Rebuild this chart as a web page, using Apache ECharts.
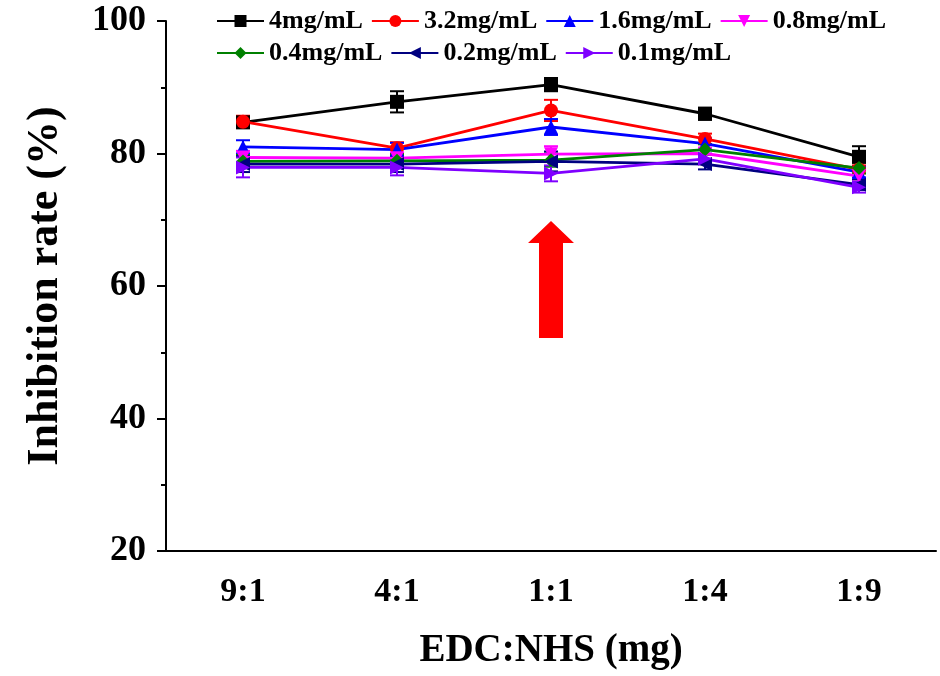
<!DOCTYPE html>
<html>
<head>
<meta charset="utf-8">
<script src="https://cdn.jsdelivr.net/npm/echarts@6/dist/echarts.min.js"></script>
<style>
  html, body { margin: 0; padding: 0; background: #fff; }
  #chart { width: 940px; height: 676px; }
</style>
</head>
<body>
<div id="chart"></div>
<script>
// 横轴类别
const ratios = ['9:1', '4:1', '1:1', '1:4', '1:9']
const yTicks = [20, 40, 60, 80, 100]

// 各浓度的抑制率 (%)
const c4 = [84.7, 87.8, 90.4, 86.0, 79.5]
const c32 = [84.8, 80.8, 86.5, 82.2, 77.6]
const c16 = [81.0, 80.6, 84.0, 81.5, 77.2]
const c08 = [79.4, 79.3, 79.9, 80.0, 76.6]
const c04 = [78.8, 78.9, 79.0, 80.6, 77.8]
const c02 = [78.4, 78.4, 78.8, 78.4, 75.3]
const c01 = [77.9, 77.9, 77.0, 79.2, 74.9]

// 误差
const e4 = [0.8, 1.6, 1.0, 0.9, 1.6]
const e32 = [0.9, 0.9, 1.6, 0.8, 0.6]
const e16 = [1.0, 1.0, 1.2, 0.8, 0.8]
const e08 = [1.0, 0.8, 1.2, 0.8, 0.8]
const e04 = [1.0, 1.0, 1.0, 0.8, 0.8]
const e02 = [1.2, 1.2, 1.5, 0.8, 0.8]
const e01 = [1.5, 1.2, 1.2, 0.8, 0.8]

const names = ['4mg/mL', '3.2mg/mL', '1.6mg/mL', '0.8mg/mL', '0.4mg/mL', '0.2mg/mL', '0.1mg/mL']

const FONT = "'Liberation Serif', 'Times New Roman', serif"

const groups = [
  { name: names[0], data: c4, err: e4, color: '#000000', symbol: 'rect' },
  { name: names[1], data: c32, err: e32, color: '#ff0000', symbol: 'circle' },
  { name: names[2], data: c16, err: e16, color: '#0000ff', symbol: 'triangle' },
  { name: names[3], data: c08, err: e08, color: '#ff00ff', symbol: 'path://M0,0 L10,0 L5,10 Z' },
  { name: names[4], data: c04, err: e04, color: '#008000', symbol: 'diamond' },
  { name: names[5], data: c02, err: e02, color: '#000080', symbol: 'path://M10,0 L10,10 L0,5 Z' },
  { name: names[6], data: c01, err: e01, color: '#7f00ff', symbol: 'path://M0,0 L10,5 L0,10 Z' }
]

const chart = echarts.init(document.getElementById('chart'))

// 误差线
const errorSeries = groups.map((g) => ({
  name: g.name + ' err',
  type: 'custom',
  z: 1,
  silent: true,
  data: g.data.map((v, i) => [i, v - g.err[i], v + g.err[i]]),
  renderItem: function (params, api) {
    const lo = api.coord([api.value(0), api.value(1)])
    const hi = api.coord([api.value(0), api.value(2)])
    const w = 7
    const style = { stroke: g.color, lineWidth: 2 }
    return {
      type: 'group',
      children: [
        { type: 'line', shape: { x1: lo[0], y1: lo[1], x2: hi[0], y2: hi[1] }, style: style },
        { type: 'line', shape: { x1: lo[0] - w, y1: lo[1], x2: lo[0] + w, y2: lo[1] }, style: style },
        { type: 'line', shape: { x1: hi[0] - w, y1: hi[1], x2: hi[0] + w, y2: hi[1] }, style: style }
      ]
    }
  }
}))

const lineSeries = groups.map((g, idx) => ({
  name: g.name,
  type: 'line',
  z: 3,
  data: g.data,
  color: g.color,
  symbol: g.symbol,
  symbolSize: 14,
  showAllSymbol: true,
  lineStyle: { width: 2.8, color: g.color },
  itemStyle: { color: g.color },
  markPoint: idx === 0 ? {
    silent: true,
    symbol: 'path://M23,0 L46,22 L35,22 L35,117 L11,117 L11,22 L0,22 Z',
    symbolSize: [46, 117],
    itemStyle: { color: '#ff0000' },
    label: { show: false },
    data: [{ coord: ['1:1', 61.0] }]
  } : undefined
}))

const legendCommon = {
  left: 216,
  padding: 0,
  itemWidth: 47,
  itemHeight: 15,
  itemGap: 8,
  textStyle: { fontFamily: FONT, fontWeight: 'bold', fontSize: 26, color: '#000' }
}

const options = {
  animation: false,
  backgroundColor: '#fff',
  grid: { left: 166, right: 4, top: 21, bottom: 125 },
  legend: [
    Object.assign({ top: 8, data: names.slice(0, 4) }, legendCommon),
    Object.assign({ top: 40, data: names.slice(4) }, legendCommon)
  ],
  xAxis: [
    {
      type: 'category',
      data: ratios,
      boundaryGap: true,
      name: 'EDC:NHS (mg)',
      nameLocation: 'middle',
      nameGap: 80,
      nameTextStyle: { fontFamily: FONT, fontWeight: 'bold', fontSize: 39, color: '#000' },
      axisLine: { lineStyle: { color: '#000', width: 2 } },
      axisTick: { alignWithLabel: true, length: 9, lineStyle: { color: '#000', width: 2 } },
      axisLabel: { margin: 24, fontFamily: FONT, fontWeight: 'bold', fontSize: 34, color: '#000' },
      splitLine: { show: false }
    },
    {
      // 类别之间的短刻度
      type: 'category',
      data: ratios,
      boundaryGap: true,
      position: 'bottom',
      axisLine: { show: false },
      axisTick: { length: 5, lineStyle: { color: '#000', width: 2 } },
      axisLabel: { show: false },
      splitLine: { show: false }
    }
  ],
  yAxis: {
    type: 'value',
    min: yTicks[0],
    max: yTicks[yTicks.length - 1],
    interval: 20,
    name: 'Inhibition rate (%)',
    nameLocation: 'middle',
    nameGap: 98,
    nameTextStyle: { fontFamily: FONT, fontWeight: 'bold', fontSize: 44, color: '#000' },
    axisLine: { show: true, lineStyle: { color: '#000', width: 2 } },
    axisTick: { show: true, length: 9, lineStyle: { color: '#000', width: 2 } },
    minorTick: { show: true, splitNumber: 2, length: 5, lineStyle: { color: '#000', width: 2 } },
    axisLabel: { margin: 20, fontFamily: FONT, fontWeight: 'bold', fontSize: 36, color: '#000' },
    splitLine: { show: false }
  },
  series: errorSeries.concat(lineSeries)
}

chart.setOption(options)
</script>
</body>
</html>
